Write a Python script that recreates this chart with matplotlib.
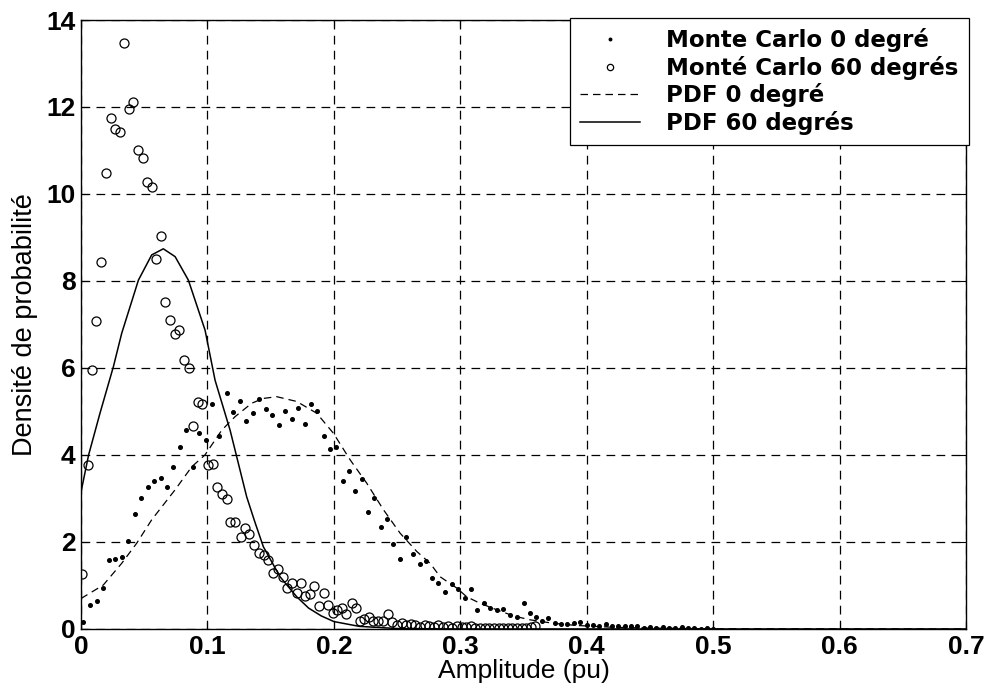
import matplotlib
matplotlib.use("Agg")
import matplotlib.pyplot as plt

# Monte Carlo histogram, 0 degree (filled dots)
mc0_x = [0.0018, 0.0071, 0.0124, 0.0171, 0.0222, 0.0272, 0.0324, 0.0374, 0.0425, 0.0477,
         0.0527, 0.0578, 0.0630, 0.0680, 0.0730, 0.0783, 0.0833, 0.0886, 0.0936, 0.0989,
         0.1039, 0.1094, 0.1153, 0.1203, 0.1256, 0.1305, 0.1358, 0.1410, 0.1460, 0.1511,
         0.1564, 0.1614, 0.1667, 0.1717, 0.1770, 0.1817, 0.1870, 0.1920, 0.1968, 0.2020,
         0.2070, 0.2120, 0.2170, 0.2223, 0.2270, 0.2320, 0.2371, 0.2421, 0.2471, 0.2524,
         0.2574, 0.2624, 0.2677, 0.2727, 0.2774, 0.2827, 0.2882, 0.2933, 0.2983, 0.3035,
         0.3085, 0.3135, 0.3186, 0.3236, 0.3289, 0.3341, 0.3394, 0.3447, 0.3500, 0.3547,
         0.3597, 0.3645, 0.3697, 0.3750, 0.3795, 0.3847, 0.3900, 0.3948, 0.4000, 0.4050,
         0.4100, 0.4150, 0.4200, 0.4250, 0.4300, 0.4350, 0.4400, 0.4450, 0.4500, 0.4550,
         0.4600, 0.4650, 0.4700, 0.4750, 0.4800, 0.4850, 0.4900, 0.4950, 0.5000]
mc0_y = [0.17, 0.54, 0.65, 0.95, 1.59, 1.62, 1.65, 2.03, 2.65, 3.02,
         3.27, 3.40, 3.46, 3.27, 3.72, 4.18, 4.57, 3.72, 4.50, 4.34,
         5.17, 4.44, 5.42, 4.99, 5.23, 4.77, 4.96, 5.29, 5.06, 4.93,
         4.70, 5.02, 4.83, 5.07, 4.71, 5.17, 5.01, 4.43, 4.14, 4.19,
         3.40, 3.63, 3.17, 3.45, 2.69, 3.00, 2.34, 2.53, 1.95, 1.62,
         2.11, 1.73, 1.49, 1.57, 1.17, 1.05, 0.86, 1.03, 0.91, 0.72,
         0.91, 0.44, 0.59, 0.48, 0.44, 0.45, 0.32, 0.28, 0.60, 0.37,
         0.27, 0.19, 0.26, 0.13, 0.11, 0.11, 0.13, 0.17, 0.08, 0.08,
         0.06, 0.11, 0.07, 0.06, 0.06, 0.06, 0.06, 0.03, 0.05, 0.03,
         0.04, 0.02, 0.03, 0.04, 0.02, 0.03, 0.01, 0.02, 0.01]

# Monte Carlo histogram, 60 degrees (open circles)
mc60_x = [0.0010, 0.0053, 0.0085, 0.0121, 0.0160, 0.0198, 0.0235, 0.0272, 0.0309, 0.0343,
          0.0377, 0.0414, 0.0451, 0.0490, 0.0525, 0.0562, 0.0596, 0.0633, 0.0667, 0.0704,
          0.0740, 0.0778, 0.0815, 0.0852, 0.0886, 0.0923, 0.0957, 0.1002, 0.1042, 0.1078,
          0.1115, 0.1153, 0.1181, 0.1221, 0.1263, 0.1297, 0.1332, 0.1366, 0.1410, 0.1448,
          0.1482, 0.1517, 0.1561, 0.1596, 0.1627, 0.1669, 0.1706, 0.1738, 0.1772, 0.1812,
          0.1846, 0.1885, 0.1925, 0.1954, 0.1996, 0.2028, 0.2065, 0.2097, 0.2142, 0.2176,
          0.2207, 0.2241, 0.2281, 0.2310, 0.2350, 0.2390, 0.2426, 0.2463, 0.2499, 0.2535,
          0.2572, 0.2608, 0.2645, 0.2681, 0.2718, 0.2754, 0.2791, 0.2827, 0.2864, 0.2900,
          0.2937, 0.2973, 0.3010, 0.3046, 0.3083, 0.3119, 0.3156, 0.3192, 0.3229, 0.3265,
          0.3302, 0.3338, 0.3375, 0.3411, 0.3448, 0.3484, 0.3521, 0.3557, 0.3594]
mc60_y = [1.27, 3.77, 5.95, 7.07, 8.44, 10.49, 11.75, 11.49, 11.43, 13.46,
          11.95, 12.12, 11.00, 10.82, 10.28, 10.15, 8.50, 9.03, 7.52, 7.11,
          6.78, 6.87, 6.18, 5.99, 4.67, 5.22, 5.17, 3.77, 3.79, 3.27,
          3.10, 2.99, 2.46, 2.46, 2.11, 2.31, 2.18, 1.93, 1.74, 1.69,
          1.59, 1.28, 1.37, 1.19, 0.94, 1.06, 0.83, 1.05, 0.76, 0.80,
          0.99, 0.53, 0.82, 0.55, 0.36, 0.44, 0.49, 0.34, 0.60, 0.48,
          0.19, 0.22, 0.27, 0.19, 0.19, 0.19, 0.34, 0.15, 0.10, 0.13,
          0.08, 0.12, 0.10, 0.05, 0.09, 0.07, 0.04, 0.08, 0.05, 0.07,
          0.03, 0.06, 0.05, 0.04, 0.06, 0.02, 0.03, 0.03, 0.02, 0.03,
          0.02, 0.03, 0.03, 0.02, 0.03, 0.02, 0.03, 0.05, 0.06]

# Theoretical density, 0 degree (dashed)
pdf0_x = [0.0, 0.0176, 0.0322, 0.0440, 0.0559, 0.0744, 0.0876, 0.0980, 0.1113, 0.1218,
          0.1350, 0.1442, 0.1548, 0.1706, 0.1864, 0.1996, 0.2128, 0.2260, 0.2392, 0.2524,
          0.2656, 0.2761, 0.2840, 0.2972, 0.3050, 0.3156, 0.3289, 0.3420, 0.3552, 0.3737,
          0.3920, 0.4200, 0.4500, 0.5000, 0.7000]
pdf0_y = [0.70, 1.01, 1.51, 1.97, 2.51, 3.20, 3.73, 4.00, 4.57, 4.88,
          5.19, 5.30, 5.34, 5.23, 4.96, 4.50, 3.89, 3.35, 2.74, 2.20,
          1.78, 1.51, 1.20, 0.94, 0.74, 0.59, 0.44, 0.30, 0.21, 0.13,
          0.08, 0.04, 0.02, 0.005, 0.0]

# Theoretical density, 60 degrees (solid)
pdf60_x = [0.0, 0.0060, 0.0150, 0.0256, 0.0322, 0.0454, 0.0559, 0.0651, 0.0744, 0.0849,
           0.0981, 0.1060, 0.1179, 0.1310, 0.1376, 0.1442, 0.1574, 0.1706, 0.1800, 0.1900,
           0.2000, 0.2200, 0.2500, 0.3000, 0.7000]
pdf60_y = [3.15, 4.00, 4.96, 6.03, 6.80, 8.02, 8.60, 8.74, 8.56, 8.02,
           6.87, 5.72, 4.57, 3.04, 2.45, 1.89, 1.20, 0.74, 0.48, 0.30,
           0.17, 0.06, 0.01, 0.0, 0.0]

x_ticks = [0, 0.1, 0.2, 0.3, 0.4, 0.5, 0.6, 0.7]
x_tick_labels = ["0", "0.1", "0.2", "0.3", "0.4", "0.5", "0.6", "0.7"]
y_ticks = [0, 2, 4, 6, 8, 10, 12, 14]

plt.rcParams["font.family"] = ["Liberation Sans Narrow", "Liberation Sans", "DejaVu Sans"]

fig = plt.figure(figsize=(9.99, 6.85), dpi=100)
ax = fig.add_axes([0.0811, 0.0818, 0.8860, 0.8890])

ax.plot(mc0_x, mc0_y, linestyle="none", marker="o", markersize=2.6,
        markerfacecolor="black", markeredgecolor="black", label="Monte Carlo 0 degré", zorder=3)
ax.plot(mc60_x, mc60_y, linestyle="none", marker="o", markersize=6.5,
        markerfacecolor="none", markeredgecolor="black", markeredgewidth=0.9,
        label="Monté Carlo 60 degrés", zorder=3)
ax.plot(pdf0_x, pdf0_y, color="black", linestyle=(0, (6, 4)), linewidth=0.9,
        label="PDF 0 degré", zorder=2)
ax.plot(pdf60_x, pdf60_y, color="black", linestyle="-", linewidth=1.1,
        label="PDF 60 degrés", zorder=2)

ax.set_xlim(0, 0.7)
ax.set_ylim(0, 14)
ax.set_xticks(x_ticks)
ax.set_xticklabels(x_tick_labels)
ax.set_yticks(y_ticks)
ax.tick_params(axis="both", direction="in", length=5, width=0.8,
               top=True, right=True, labelsize=19, pad=4)
for lab in ax.get_xticklabels() + ax.get_yticklabels():
    lab.set_fontweight("bold")

ax.grid(True, color="black", linestyle=(0, (7, 5)), linewidth=0.9)
for sp in ax.spines.values():
    sp.set_linewidth(1.0)

ax.set_xlabel("Amplitude (pu)", fontsize=19, labelpad=0)
ax.set_ylabel("Densité de probabilité", fontsize=19.5, labelpad=6)

leg = ax.legend(loc="upper right", bbox_to_anchor=(1.003, 1.003),
                prop={"family": "DejaVu Sans", "weight": "bold", "size": 16.5},
                frameon=True, fancybox=False, edgecolor="black", framealpha=1,
                handlelength=2.6, handletextpad=1.15, borderpad=0.45,
                labelspacing=0.15, borderaxespad=0.0, markerscale=0.7)
leg.get_frame().set_linewidth(0.9)

fig.savefig("out.png", dpi=100)
